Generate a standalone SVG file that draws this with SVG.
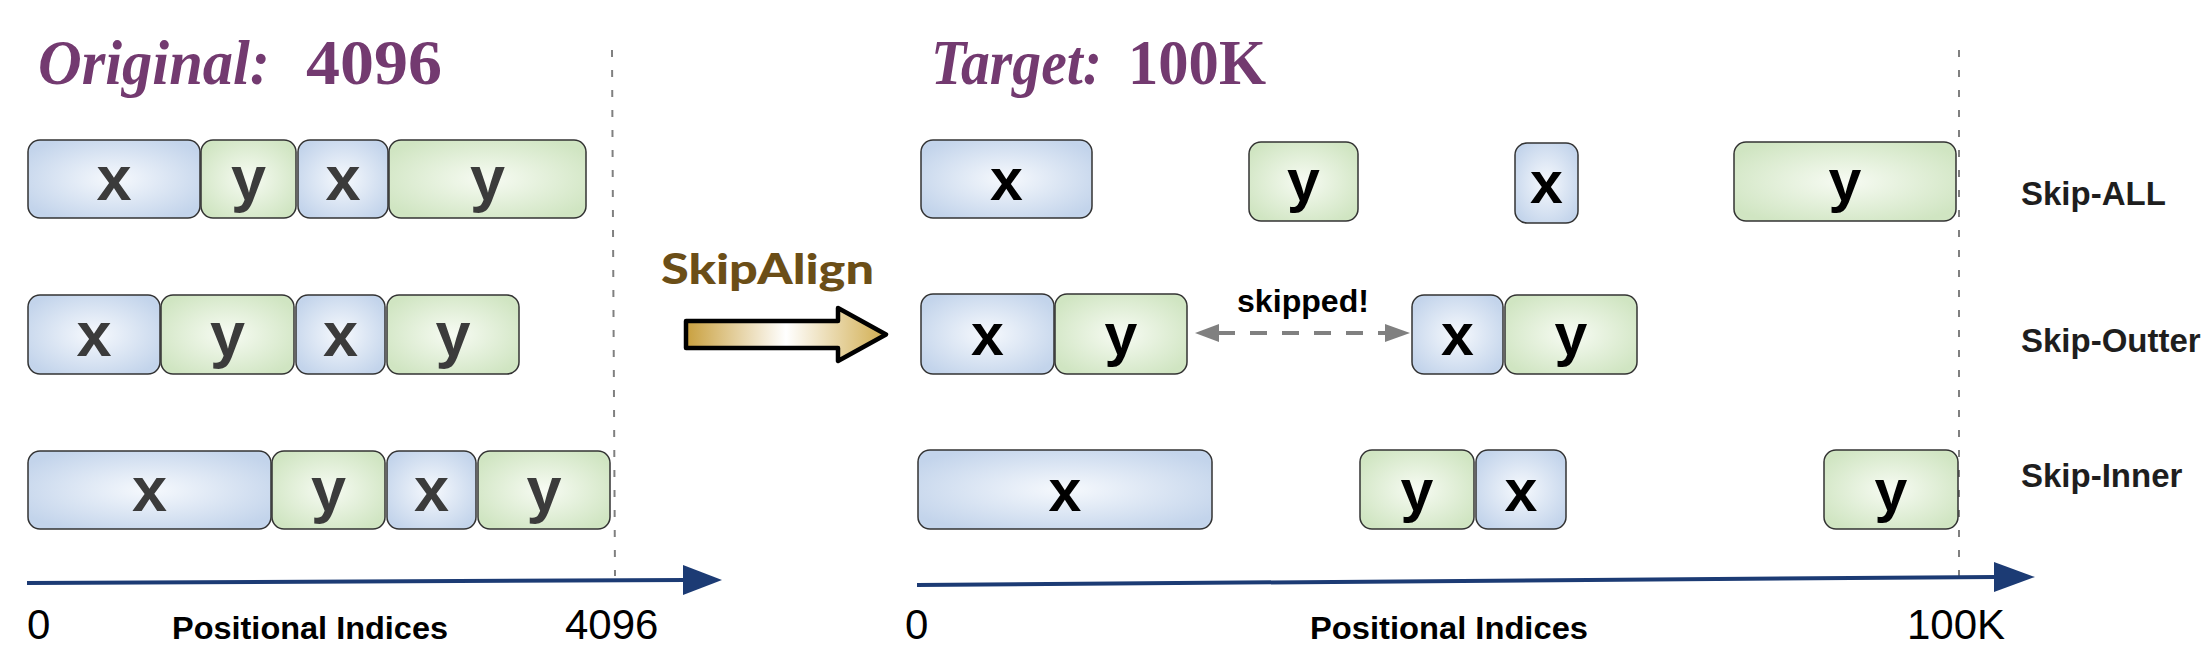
<svg xmlns="http://www.w3.org/2000/svg" width="2212" height="666" viewBox="0 0 2212 666">
<defs>
<radialGradient id="gb" cx="0.5" cy="0.5" r="0.6">
<stop offset="0" stop-color="#F6F9FD"/>
<stop offset="1" stop-color="#C3D4EB"/>
</radialGradient>
<radialGradient id="gg" cx="0.5" cy="0.5" r="0.6">
<stop offset="0" stop-color="#F7FBF3"/>
<stop offset="1" stop-color="#D0E5C2"/>
</radialGradient>
<linearGradient id="gold" x1="0" y1="0" x2="1" y2="0">
<stop offset="0" stop-color="#C9A03E"/>
<stop offset="0.5" stop-color="#FFFFFF"/>
<stop offset="1" stop-color="#D1AD4F"/>
</linearGradient>
<style>
.bx{fill:url(#gb);stroke:#333;stroke-width:1.5}
.by{fill:url(#gg);stroke:#333;stroke-width:1.5}
.tl{font-family:"Liberation Sans",Arial,sans-serif;font-weight:bold;font-size:63px;fill:#3b3b3b;text-anchor:middle}
.tr{font-family:"Liberation Sans",Arial,sans-serif;font-weight:bold;font-size:59px;fill:#000;text-anchor:middle}
.ttl{font-family:"Liberation Serif","Times New Roman",serif;font-weight:bold;font-size:64px;fill:#733A70}
.num{font-family:"Liberation Sans",Arial,sans-serif;font-size:42px;fill:#000}
.pi{font-family:"Liberation Sans",Arial,sans-serif;font-weight:bold;font-size:32px;fill:#000}
.lab{font-family:"Liberation Sans",Arial,sans-serif;font-weight:bold;font-size:33px;fill:#1e1e1e}
.dash{stroke:#808080;stroke-width:2;stroke-dasharray:7 13;fill:none}
.axis{stroke:#1C3B74;stroke-width:4;fill:none}
.axh{fill:#1C3B74}
</style>
</defs>
<rect width="2212" height="666" fill="#fff"/>

<g id="titles">
<text class="ttl" x="38" y="84"><tspan font-style="italic" textLength="232" lengthAdjust="spacingAndGlyphs">Original:</tspan><tspan x="306" textLength="136" lengthAdjust="spacingAndGlyphs">4096</tspan></text>
<text class="ttl" x="931" y="84"><tspan font-style="italic" textLength="171" lengthAdjust="spacingAndGlyphs">Target:</tspan><tspan x="1128" textLength="138" lengthAdjust="spacingAndGlyphs">100K</tspan></text>
</g>

<g id="connectors">
<line class="dash" x1="612" y1="50" x2="615" y2="576"/>
<line class="dash" x1="1959" y1="50" x2="1959" y2="577"/>
<line class="axis" x1="27" y1="583" x2="686" y2="580"/>
<polygon class="axh" points="683,565 722,580 683,595"/>
<line class="axis" x1="917" y1="585" x2="1996" y2="577"/>
<polygon class="axh" points="1994,562 2035,577 1994,592"/>
<g id="skipped-arrow">
<line x1="1218" y1="333" x2="1386" y2="333" stroke="#808080" stroke-width="4" stroke-dasharray="17 15"/>
<polygon points="1195,333 1219,324 1219,342" fill="#808080"/>
<polygon points="1410,333 1385,324 1385,342" fill="#808080"/>
</g>
<g id="skipalign-arrow">
<polygon points="686,321 838,321 838,308 886,334.5 838,361 838,348 686,348" fill="url(#gold)" stroke="#000" stroke-width="4.5" stroke-linejoin="round"/>
</g>
</g>

<text id="skipalign-label" x="661" y="284" font-family="Lato,'Open Sans',sans-serif" font-weight="900" font-size="42" fill="#6B4E17" textLength="213" lengthAdjust="spacingAndGlyphs">SkipAlign</text>
<text id="skipped-label" class="pi" x="1237" y="312" font-size="30" textLength="132" lengthAdjust="spacingAndGlyphs">skipped!</text>

<!-- Left row 1 -->
<g id="L1x1"><rect class="bx" x="28" y="140" width="172" height="78" rx="12"/><text class="tl" x="114" y="200">x</text></g>
<g id="L1y1"><rect class="by" x="201" y="140" width="95" height="78" rx="12"/><text class="tl" x="248.5" y="200">y</text></g>
<g id="L1x2"><rect class="bx" x="298" y="140" width="90" height="78" rx="12"/><text class="tl" x="343" y="200">x</text></g>
<g id="L1y2"><rect class="by" x="389" y="140" width="197" height="78" rx="12"/><text class="tl" x="487.5" y="200">y</text></g>
<!-- Left row 2 -->
<g id="L2x1"><rect class="bx" x="28" y="295" width="132" height="79" rx="12"/><text class="tl" x="94" y="356">x</text></g>
<g id="L2y1"><rect class="by" x="161" y="295" width="133" height="79" rx="12"/><text class="tl" x="227.5" y="356">y</text></g>
<g id="L2x2"><rect class="bx" x="296" y="295" width="89" height="79" rx="12"/><text class="tl" x="340.5" y="356">x</text></g>
<g id="L2y2"><rect class="by" x="387" y="295" width="132" height="79" rx="12"/><text class="tl" x="453" y="356">y</text></g>
<!-- Left row 3 -->
<g id="L3x1"><rect class="bx" x="28" y="451" width="243" height="78" rx="12"/><text class="tl" x="149.5" y="511">x</text></g>
<g id="L3y1"><rect class="by" x="272" y="451" width="113" height="78" rx="12"/><text class="tl" x="328.5" y="511">y</text></g>
<g id="L3x2"><rect class="bx" x="387" y="451" width="89" height="78" rx="12"/><text class="tl" x="431.5" y="511">x</text></g>
<g id="L3y2"><rect class="by" x="478" y="451" width="132" height="78" rx="12"/><text class="tl" x="544" y="511">y</text></g>

<!-- Right row 1: Skip-ALL -->
<g id="R1x1"><rect class="bx" x="921" y="140" width="171" height="78" rx="12"/><text class="tr" x="1006.5" y="200">x</text></g>
<g id="R1y1"><rect class="by" x="1249" y="142" width="109" height="79" rx="12"/><text class="tr" x="1303.5" y="201">y</text></g>
<g id="R1x2"><rect class="bx" x="1515" y="143" width="63" height="80" rx="12"/><text class="tr" x="1546.5" y="203">x</text></g>
<g id="R1y2"><rect class="by" x="1734" y="142" width="222" height="79" rx="12"/><text class="tr" x="1845" y="201">y</text></g>
<!-- Right row 2: Skip-Outter -->
<g id="R2x1"><rect class="bx" x="921" y="294" width="133" height="80" rx="12"/><text class="tr" x="987.5" y="355">x</text></g>
<g id="R2y1"><rect class="by" x="1055" y="294" width="132" height="80" rx="12"/><text class="tr" x="1121" y="355">y</text></g>
<g id="R2x2"><rect class="bx" x="1412" y="295" width="91" height="79" rx="12"/><text class="tr" x="1457.5" y="355">x</text></g>
<g id="R2y2"><rect class="by" x="1505" y="295" width="132" height="79" rx="12"/><text class="tr" x="1571" y="355">y</text></g>
<!-- Right row 3: Skip-Inner -->
<g id="R3x1"><rect class="bx" x="918" y="450" width="294" height="79" rx="12"/><text class="tr" x="1065" y="511">x</text></g>
<g id="R3y1"><rect class="by" x="1360" y="450" width="114" height="79" rx="12"/><text class="tr" x="1417" y="511">y</text></g>
<g id="R3x2"><rect class="bx" x="1476" y="450" width="90" height="79" rx="12"/><text class="tr" x="1521" y="511">x</text></g>
<g id="R3y2"><rect class="by" x="1824" y="450" width="134" height="79" rx="12"/><text class="tr" x="1891" y="511">y</text></g>

<g id="row-labels">
<text class="lab" x="2021" y="205">Skip-ALL</text>
<text class="lab" x="2021" y="352">Skip-Outter</text>
<text class="lab" x="2021" y="487">Skip-Inner</text>
</g>

<g id="axis-labels">
<text class="num" x="27" y="639">0</text>
<text class="pi" x="172" y="639" textLength="276" lengthAdjust="spacingAndGlyphs">Positional Indices</text>
<text class="num" x="565" y="639">4096</text>
<text class="num" x="905" y="639">0</text>
<text class="pi" x="1310" y="639" textLength="278" lengthAdjust="spacingAndGlyphs">Positional Indices</text>
<text class="num" x="1907" y="639">100K</text>
</g>
</svg>
